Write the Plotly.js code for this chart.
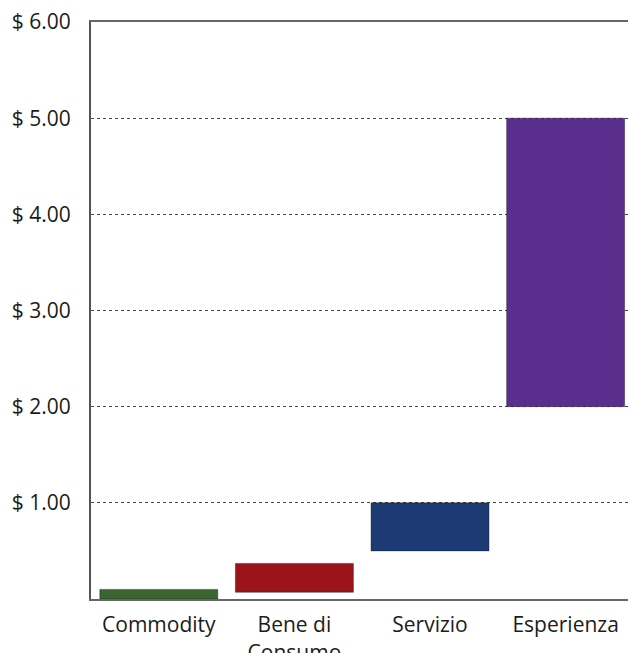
<!DOCTYPE html>
<html>
<head>
<meta charset="utf-8">
<script src="https://cdn.plot.ly/plotly-3.0.1.min.js"></script>
<style>html,body{margin:0;padding:0;background:#fff;}#chart{width:628px;height:653px;}</style>
</head>
<body>
<div id="chart"></div>
<script>
// Data
const categories = ["Commodity", "Bene di<br>Consumo", "Servizio", "Esperienza"];
const lowValues  = [0.00, 0.07, 0.50, 2.00];
const highValues = [0.10, 0.37, 1.00, 5.00];
const yTickValues = [1, 2, 3, 4, 5, 6];

// Styles
const barColors = ["#3b6632", "#9a1419", "#1e3a74", "#5a2e8c"];

const heights = highValues.map((h, i) => h - lowValues[i]);
const yTickText = yTickValues.map(v => "$ " + v.toFixed(2));

const trace = {
  type: "bar",
  x: categories,
  y: heights,
  base: lowValues,
  marker: { color: barColors, line: { color: "rgba(0,0,0,0.35)", width: 1 } },
  width: 0.87,
  hoverinfo: "skip"
};

const layout = {
  width: 628,
  height: 653,
  margin: { l: 91, r: 0, t: 22, b: 54, pad: 0 },
  paper_bgcolor: "#ffffff",
  plot_bgcolor: "#ffffff",
  showlegend: false,
  font: { family: "Open Sans, sans-serif", size: 21, color: "#1c1c1c" },
  xaxis: {
    type: "category",
    range: [-0.5, 3.46],
    showgrid: false,
    zeroline: false,
    showline: true,
    linecolor: "#666666",
    linewidth: 2,
    mirror: true,
    ticks: "",
    ticklabelstandoff: 6,
    tickfont: { size: 21, color: "#1c1c1c" },
    fixedrange: true
  },
  yaxis: {
    range: [0, 6],
    tickvals: yTickValues,
    ticktext: yTickText,
    showgrid: true,
    gridcolor: "#444444",
    gridwidth: 1,
    griddash: "dot",
    zeroline: false,
    showline: true,
    linecolor: "#555555",
    linewidth: 2,
    ticks: "",
    ticklabelstandoff: 14,
    tickfont: { size: 21, color: "#1c1c1c" },
    fixedrange: true
  },
  bargap: 0.13
};

Plotly.newPlot("chart", [trace], layout, { displayModeBar: false, staticPlot: true });
</script>
</body>
</html>
